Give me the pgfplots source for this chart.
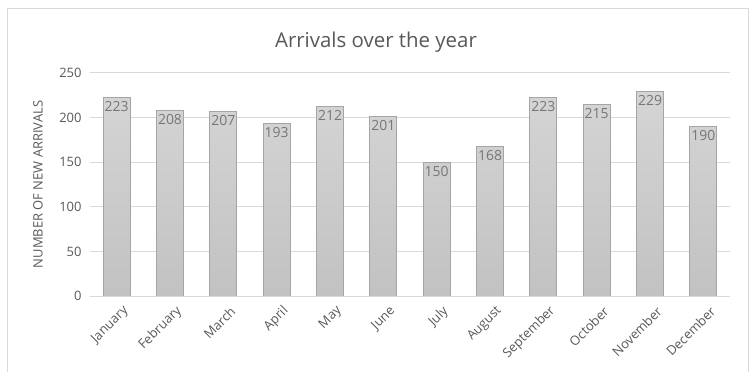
\documentclass[border=0pt]{standalone}
\usepackage{pgfplots}
\pgfplotsset{compat=1.18}
\usepackage{fontspec}
\setmainfont{Open Sans}
\definecolor{gridc}{HTML}{D9D9D9}
\definecolor{txt}{HTML}{595959}
\definecolor{lbl}{HTML}{767676}
\definecolor{edge}{HTML}{A5A5A5}
\begin{document}
\begin{tikzpicture}[x=1bp,y=1bp]
\fill[white] (0,0) rectangle (752,372);
\draw[gridc, line width=1bp] (7,0) -- (7,363) -- (748,363) -- (748,0);
\node[txt, font=\fontsize{20.5}{22}\selectfont] at (376,330) {Arrivals over the year};
\begin{axis}[
  at={(90bp,76bp)}, anchor=south west,
  scale only axis, width=640bp, height=223bp,
  xmin=-0.5, xmax=11.5, ymin=0, ymax=250,
  /pgf/number format/assume math mode=true,
  ytick={0,50,100,150,200,250},
  xtick={0,...,11},
  xticklabels={January,February,March,April,May,June,July,August,September,October,November,December},
  axis line style={draw=none},
  major tick length=0pt,
  ymajorgrids, grid style={gridc, line width=1bp},
  yticklabel style={txt, font=\fontsize{13}{15}\selectfont, xshift=-5bp},
  xticklabel style={txt, font=\fontsize{13}{15}\selectfont, rotate=45, anchor=east, xshift=1bp, yshift=-16bp},
  ylabel={NUMBER OF NEW ARRIVALS},
  every axis y label/.style={at={(axis description cs:0,0.5)}, xshift=-52bp, rotate=90, anchor=center, txt, font=\fontsize{13}{15}\selectfont},
  ybar, bar width=27bp,
  nodes near coords,
  every node near coord/.append style={anchor=north, lbl, font=\fontsize{14}{16}\selectfont, yshift=0bp},
  clip=false,
]
\addplot[draw=edge, line width=1bp, top color=gray!33, bottom color=gray!48] coordinates {
(0,223) (1,208) (2,207) (3,193) (4,212) (5,201) (6,150) (7,168) (8,223) (9,215) (10,229) (11,190)};
\draw[gridc, line width=1bp] (axis cs:-0.5,0) -- (axis cs:11.5,0);
\end{axis}
\end{tikzpicture}
\end{document}
